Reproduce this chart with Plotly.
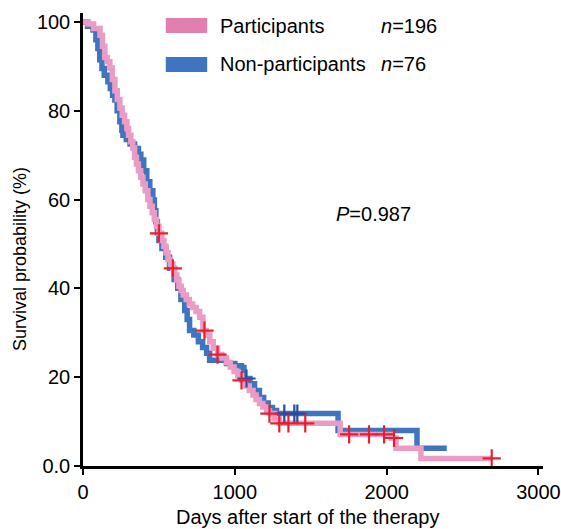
import plotly.graph_objects as go

# ---- data ----
part_days = [0, 33, 70, 112, 128, 144, 160, 177, 193, 210, 226, 243, 258, 274, 289, 300, 315, 328, 340, 352,
             365, 380, 395, 410, 427, 441, 456, 470, 485, 500, 519, 533, 547, 560, 576, 592, 605, 618, 632, 646,
             660, 680, 700, 722, 745, 768, 790, 812, 835, 858, 886, 915, 945, 970, 995, 1020, 1044, 1070, 1095, 1120,
             1140, 1162, 1185, 1210, 1228, 1260, 1293, 1694, 2030, 2062, 2226, 2692]
part_surv = [100, 99.5, 98.5, 97, 94.5, 92, 91, 89.6, 87, 84.5, 82.5, 80.6, 79, 77.5, 76, 74.5, 73, 71.6, 69.5, 68,
             66.5, 65, 63.5, 62, 60, 58.5, 57, 55.5, 54, 52.4, 50.8, 49.5, 48, 46.5, 45.5, 44.5, 43, 41.8, 40.5, 39.5,
             38.5, 37.5, 36.5, 35.7, 34.8, 33.5, 30.5, 29.5, 28, 26.5, 25.1, 24.3, 23.3, 22.3, 21.3, 20.3, 19.3, 18, 17, 16,
             15, 14.1, 13.3, 12.4, 11.8, 10.6, 9.6, 7.1, 6.3, 4.0, 1.7, 1.7]
part_cens_days = [500, 592, 800, 886, 1044, 1228, 1293, 1353, 1464, 1753, 1884, 1983, 2049, 2692]
part_cens_surv = [52.4, 44.5, 30.5, 25.1, 19.3, 11.8, 9.6, 9.6, 9.6, 7.1, 7.1, 7.1, 6.3, 1.7]

non_days = [0, 30, 66, 85, 98, 110, 125, 140, 164, 180, 195, 210, 225, 243, 256, 263, 285, 310, 340, 365,
            381, 400, 420, 440, 460, 470, 480, 490, 500, 520, 545, 570, 600, 624, 645, 670, 686, 702, 730, 760,
            788, 814, 834, 945, 1000, 1044, 1060, 1100, 1130, 1162, 1190, 1220, 1248, 1275, 1680, 2200, 2396]
non_surv = [100, 99, 98.2, 96, 94, 91.5, 89.5, 88, 86.5, 85, 83.5, 82.4, 80, 77.5, 75.6, 74.5, 73.5, 72.5, 71.5, 70.2,
            68.9, 66.5, 64, 62, 59.9, 57.5, 55, 52.5, 50.8, 49, 47, 44.5, 42, 40, 37.5, 35, 33, 30.5, 29.5, 28,
            26.7, 25.4, 23.8, 23.1, 22.6, 22.2, 19.7, 18.5, 17, 15.4, 14.2, 13.2, 12.5, 11.8, 8.0, 4.0, 4.0]
non_cens_days = [1077, 1326, 1392, 1412]
non_cens_surv = [19.7, 11.8, 11.8, 11.8]

y_tickvals = [0, 20, 40, 60, 80, 100]
y_ticktext = ["0.0", "20", "40", "60", "80", "100"]
x_tickvals = [0, 1000, 2000, 3000]

PINK = "#eb9cc4"
PINK_BOX = "#e07fb0"
BLUE = "#3f74c0"
RED = "#e8202e"
NAVY = "#2c4aa0"
FONT = "Liberation Sans, Arial, sans-serif"

fig = go.Figure()
fig.add_trace(go.Scatter(x=non_days, y=non_surv, mode="lines", line=dict(shape="hv", color=BLUE, width=5.5),
                         name="Non-participants", showlegend=False, hoverinfo="skip"))
fig.add_trace(go.Scatter(x=part_days, y=part_surv, mode="lines", line=dict(shape="hv", color=PINK, width=5.5),
                         name="Participants", showlegend=False, hoverinfo="skip"))
fig.add_trace(go.Scatter(x=non_cens_days, y=non_cens_surv, mode="markers",
                         marker=dict(symbol="cross-thin", size=13, line=dict(color=NAVY, width=2.2)),
                         showlegend=False, hoverinfo="skip"))
fig.add_trace(go.Scatter(x=part_cens_days, y=part_cens_surv, mode="markers",
                         marker=dict(symbol="cross-thin", size=13, line=dict(color=RED, width=2.2)),
                         showlegend=False, hoverinfo="skip"))

# manual legend
fig.add_shape(type="rect", xref="paper", yref="paper", x0=0.180, x1=0.270, y0=0.956, y1=0.989,
              fillcolor=PINK_BOX, line=dict(width=0))
fig.add_shape(type="rect", xref="paper", yref="paper", x0=0.180, x1=0.270, y0=0.870, y1=0.903,
              fillcolor=BLUE, line=dict(width=0))
ann_font = dict(family=FONT, size=20, color="black")
fig.add_annotation(xref="paper", yref="paper", x=0.293, y=0.972, text="Participants", showarrow=False,
                   xanchor="left", yanchor="middle", font=ann_font)
fig.add_annotation(xref="paper", yref="paper", x=0.293, y=0.887, text="Non-participants", showarrow=False,
                   xanchor="left", yanchor="middle", font=ann_font)
fig.add_annotation(xref="paper", yref="paper", x=0.643, y=0.972, text="<i>n</i>=196", showarrow=False,
                   xanchor="left", yanchor="middle", font=ann_font)
fig.add_annotation(xref="paper", yref="paper", x=0.643, y=0.887, text="<i>n</i>=76", showarrow=False,
                   xanchor="left", yanchor="middle", font=ann_font)
fig.add_annotation(xref="paper", yref="paper", x=0.632, y=0.556, text="<i>P</i>=0.987", showarrow=False,
                   xanchor="center", yanchor="middle", font=ann_font)
# axis titles
fig.add_annotation(xref="paper", yref="paper", x=0.489, y=-0.113, text="Days after start of the therapy",
                   showarrow=False, xanchor="center", yanchor="middle", font=dict(family=FONT, size=20, color="black"))
fig.add_annotation(xref="paper", yref="paper", x=-0.137, y=0.457, text="Survival probability (%)",
                   showarrow=False, xanchor="center", yanchor="middle", textangle=-90,
                   font=dict(family=FONT, size=18, color="black"))

fig.update_layout(
    width=561, height=529,
    margin=dict(l=83, r=18, t=13, b=63),
    paper_bgcolor="white", plot_bgcolor="white",
    font=dict(family=FONT, size=20, color="black"),
    showlegend=False,
)
fig.update_xaxes(range=[0, 3030], tickvals=x_tickvals, ticks="outside", ticklen=6, tickwidth=2,
                 tickcolor="black", showline=True, linecolor="black", linewidth=2.5, showgrid=False,
                 zeroline=False, tickfont=dict(size=20), automargin=False)
fig.update_yaxes(range=[0, 102], tickvals=y_tickvals, ticktext=y_ticktext, ticks="outside", ticklen=6,
                 tickwidth=2, tickcolor="black", showline=True, linecolor="black", linewidth=2.5,
                 showgrid=False, zeroline=False, tickfont=dict(size=20), automargin=False)

fig.write_html("out.html", config={"displayModeBar": False},
               post_script="document.body.style.margin='0';document.body.style.overflow='hidden';")
